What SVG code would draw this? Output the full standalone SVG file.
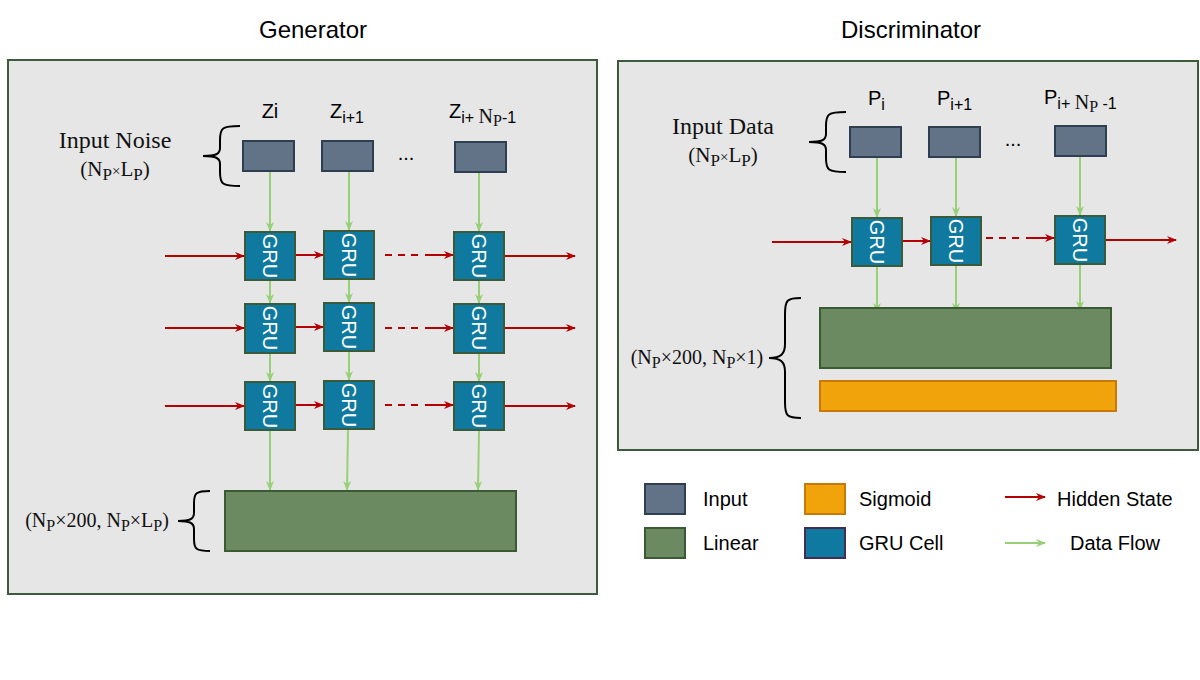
<svg xmlns="http://www.w3.org/2000/svg" width="1200" height="680" viewBox="0 0 1200 680">
<style>
.panel{fill:#e6e6e6;stroke:#3d5a3d;stroke-width:2}
.inp{fill:#627388;stroke:#2f3f52;stroke-width:2}
.gru{fill:#0f79a0;stroke:#3a5a3a;stroke-width:2}
.lin{fill:#6b8a62;stroke:#3a5a33;stroke-width:2}
.sig{fill:#f0a30a;stroke:#c7790a;stroke-width:2}
.gl{font-family:"Liberation Sans",Arial,sans-serif;font-size:20px;fill:#fff}
.t{font-family:"Liberation Sans",Arial,sans-serif;fill:#000}
.s{font-family:"Liberation Serif","Times New Roman",serif;fill:#111}
.br{fill:none;stroke:#000;stroke-width:2}
.red{stroke:#b30000;stroke-width:2;fill:none}
.grn{stroke:#97d077;stroke-width:2;fill:none}
</style>
<defs>
<marker id="ar" viewBox="0 0 10 10" refX="9" refY="5" markerWidth="10" markerHeight="10" orient="auto" markerUnits="userSpaceOnUse"><path d="M0,1 L10,5 L0,9 L3,5 Z" fill="#b30000"/></marker>
<marker id="ag" viewBox="0 0 10 10" refX="9" refY="5" markerWidth="10" markerHeight="10" orient="auto" markerUnits="userSpaceOnUse"><path d="M0,1 L10,5 L0,9 L3,5 Z" fill="#97d077"/></marker>
</defs>
<rect width="1200" height="680" fill="#fff"/>
<text class="t" x="313" y="38" font-size="24" text-anchor="middle">Generator</text>
<text class="t" x="911" y="38" font-size="24" text-anchor="middle">Discriminator</text>
<rect id="gen-panel" class="panel" x="8" y="60" width="589" height="534"/>
<rect id="disc-panel" class="panel" x="618" y="61" width="580" height="389"/>

<g id="gen-input-label">
<text class="s" x="115" y="148" font-size="24" text-anchor="middle">Input Noise</text>
<text class="s" x="115" y="176" font-size="21" text-anchor="middle">(N<tspan font-size="17" dy="4">P</tspan><tspan dy="-4" font-size="15">×</tspan>L<tspan font-size="17" dy="4">P</tspan><tspan dy="-4">)</tspan></text>
<path class="br" d="M240,126 C222,126 220,128 220,140 L220,148 C220,154 216,156 203,156 C216,156 220,158 220,164 L220,172 C220,184 222,186 240,186"/>
</g>

<g id="connectors">
<line class="grn" x1="270" y1="172" x2="270" y2="231" marker-end="url(#ag)"/>
<line class="grn" x1="349" y1="172" x2="349" y2="230" marker-end="url(#ag)"/>
<line class="grn" x1="479" y1="173" x2="479" y2="231" marker-end="url(#ag)"/>
<line class="grn" x1="270" y1="281" x2="270" y2="303" marker-end="url(#ag)"/>
<line class="grn" x1="349" y1="280" x2="349" y2="302" marker-end="url(#ag)"/>
<line class="grn" x1="479" y1="281" x2="479" y2="303" marker-end="url(#ag)"/>
<line class="grn" x1="270" y1="354" x2="270" y2="381" marker-end="url(#ag)"/>
<line class="grn" x1="349" y1="352" x2="349" y2="380" marker-end="url(#ag)"/>
<line class="grn" x1="479" y1="354" x2="479" y2="381" marker-end="url(#ag)"/>
<line class="grn" x1="270" y1="431" x2="270" y2="490" marker-end="url(#ag)"/>
<line class="grn" x1="348" y1="430" x2="347" y2="490" marker-end="url(#ag)"/>
<line class="grn" x1="479" y1="431" x2="478" y2="490" marker-end="url(#ag)"/>
<line class="red" x1="165" y1="256" x2="244" y2="256" marker-end="url(#ar)"/>
<line class="red" x1="296" y1="255" x2="323" y2="255" marker-end="url(#ar)"/>
<line class="red" x1="385" y1="255" x2="418" y2="255" stroke-dasharray="7,6"/>
<line class="red" x1="425" y1="255" x2="453" y2="255" marker-end="url(#ar)"/>
<line class="red" x1="505" y1="256" x2="575" y2="256" marker-end="url(#ar)"/>
<line class="red" x1="165" y1="328" x2="244" y2="328" marker-end="url(#ar)"/>
<line class="red" x1="296" y1="327" x2="323" y2="327" marker-end="url(#ar)"/>
<line class="red" x1="385" y1="328" x2="418" y2="328" stroke-dasharray="7,6"/>
<line class="red" x1="425" y1="328" x2="453" y2="328" marker-end="url(#ar)"/>
<line class="red" x1="505" y1="328" x2="575" y2="328" marker-end="url(#ar)"/>
<line class="red" x1="165" y1="406" x2="244" y2="406" marker-end="url(#ar)"/>
<line class="red" x1="296" y1="405" x2="323" y2="405" marker-end="url(#ar)"/>
<line class="red" x1="385" y1="405" x2="418" y2="405" stroke-dasharray="7,6"/>
<line class="red" x1="425" y1="405" x2="453" y2="405" marker-end="url(#ar)"/>
<line class="red" x1="505" y1="406" x2="575" y2="406" marker-end="url(#ar)"/>
<line class="grn" x1="877" y1="158" x2="877" y2="217" marker-end="url(#ag)"/>
<line class="grn" x1="956" y1="158" x2="956" y2="216" marker-end="url(#ag)"/>
<line class="grn" x1="1080" y1="157" x2="1080" y2="215" marker-end="url(#ag)"/>
<line class="grn" x1="877" y1="267" x2="877" y2="312" marker-end="url(#ag)"/>
<line class="grn" x1="956" y1="266" x2="956" y2="312" marker-end="url(#ag)"/>
<line class="grn" x1="1080" y1="265" x2="1080" y2="310" marker-end="url(#ag)"/>
<line class="red" x1="772" y1="242" x2="851" y2="242" marker-end="url(#ar)"/>
<line class="red" x1="903" y1="241" x2="930" y2="241" marker-end="url(#ar)"/>
<line class="red" x1="986" y1="238" x2="1019" y2="238" stroke-dasharray="7,6"/>
<line class="red" x1="1026" y1="238" x2="1054" y2="238" marker-end="url(#ar)"/>
<line class="red" x1="1106" y1="240" x2="1176" y2="240" marker-end="url(#ar)"/>
</g>

<g id="gen-inputs">
<rect class="inp" x="243" y="141" width="51" height="30"/>
<rect class="inp" x="322" y="141" width="51" height="30"/>
<rect class="inp" x="455" y="142" width="51" height="30"/>
<text class="t" x="270" y="118" font-size="20" text-anchor="middle">Zi</text>
<text class="t" x="330" y="118" font-size="20">Z<tspan font-size="16" dy="5">i+1</tspan></text>
<text class="t" x="449" y="118" font-size="20">Z<tspan font-size="16" dy="5">i+ </tspan><tspan class="s" font-size="20" dy="0">N</tspan><tspan class="s" font-size="16" dy="3">P</tspan><tspan font-size="16" dy="-3">-1</tspan></text>
<text class="t" x="406" y="160" font-size="20" text-anchor="middle">...</text>
</g>

<g id="gen-gru">
<rect class="gru" x="245" y="232" width="50" height="48"/>
<rect class="gru" x="324" y="231" width="50" height="48"/>
<rect class="gru" x="454" y="232" width="50" height="48"/>
<rect class="gru" x="245" y="304" width="50" height="49"/>
<rect class="gru" x="324" y="303" width="50" height="48"/>
<rect class="gru" x="454" y="304" width="50" height="49"/>
<rect class="gru" x="245" y="382" width="50" height="48"/>
<rect class="gru" x="324" y="381" width="50" height="48"/>
<rect class="gru" x="454" y="382" width="50" height="48"/>
<text class="gl" transform="translate(263,256) rotate(90)" text-anchor="middle">GRU</text>
<text class="gl" transform="translate(342,255) rotate(90)" text-anchor="middle">GRU</text>
<text class="gl" transform="translate(472,256) rotate(90)" text-anchor="middle">GRU</text>
<text class="gl" transform="translate(263,328) rotate(90)" text-anchor="middle">GRU</text>
<text class="gl" transform="translate(342,327) rotate(90)" text-anchor="middle">GRU</text>
<text class="gl" transform="translate(472,328) rotate(90)" text-anchor="middle">GRU</text>
<text class="gl" transform="translate(263,406) rotate(90)" text-anchor="middle">GRU</text>
<text class="gl" transform="translate(342,405) rotate(90)" text-anchor="middle">GRU</text>
<text class="gl" transform="translate(472,406) rotate(90)" text-anchor="middle">GRU</text>
</g>

<g id="gen-linear">
<rect class="lin" x="225" y="491" width="291" height="60"/>
<path class="br" d="M210,491 C196,491 194,493 194,503 L194,513 C194,519 190,521 178,521 C190,521 194,523 194,529 L194,539 C194,549 196,551 210,551"/>
<text class="s" x="97" y="527" font-size="20" text-anchor="middle">(N<tspan font-size="16" dy="4">P</tspan><tspan dy="-4">×200, N</tspan><tspan font-size="16" dy="4">P</tspan><tspan dy="-4">×L</tspan><tspan font-size="16" dy="4">P</tspan><tspan dy="-4">)</tspan></text>
</g>

<g id="disc-input-label">
<text class="s" x="723" y="134" font-size="24" text-anchor="middle">Input Data</text>
<text class="s" x="723" y="162" font-size="21" text-anchor="middle">(N<tspan font-size="17" dy="4">P</tspan><tspan dy="-4" font-size="15">×</tspan>L<tspan font-size="17" dy="4">P</tspan><tspan dy="-4">)</tspan></text>
<path class="br" d="M846,112 C828,112 826,114 826,126 L826,134 C826,140 822,142 809,142 C822,142 826,144 826,150 L826,158 C826,170 828,172 846,172"/>
</g>

<g id="disc-inputs">
<rect class="inp" x="850" y="127" width="51" height="30"/>
<rect class="inp" x="929" y="127" width="51" height="30"/>
<rect class="inp" x="1055" y="126" width="51" height="30"/>
<text class="t" x="868" y="105" font-size="20">P<tspan font-size="16" dy="5">i</tspan></text>
<text class="t" x="937" y="105" font-size="20">P<tspan font-size="16" dy="5">i+1</tspan></text>
<text class="t" x="1044" y="104" font-size="20">P<tspan font-size="16" dy="5">i+ </tspan><tspan class="s" font-size="20">N</tspan><tspan class="s" font-size="16" dy="3">P</tspan><tspan font-size="16" dy="-3"> -1</tspan></text>
<text class="t" x="1013" y="146" font-size="20" text-anchor="middle">...</text>
</g>

<g id="disc-gru">
<rect class="gru" x="852" y="218" width="50" height="48"/>
<rect class="gru" x="931" y="217" width="50" height="48"/>
<rect class="gru" x="1055" y="216" width="50" height="48"/>
<text class="gl" transform="translate(870,242) rotate(90)" text-anchor="middle">GRU</text>
<text class="gl" transform="translate(949,241) rotate(90)" text-anchor="middle">GRU</text>
<text class="gl" transform="translate(1073,240) rotate(90)" text-anchor="middle">GRU</text>
</g>

<g id="disc-output">
<rect class="lin" x="820" y="308" width="291" height="60"/>
<rect class="sig" x="820" y="381" width="296" height="30"/>
<path class="br" d="M801,298 C787,298 785,300 785,314 L785,344 C785,354 781,358 769,358 C781,358 785,362 785,372 L785,402 C785,416 787,418 801,418"/>
<text class="s" x="697" y="364" font-size="20" text-anchor="middle">(N<tspan font-size="16" dy="4">P</tspan><tspan dy="-4">×200, N</tspan><tspan font-size="16" dy="4">P</tspan><tspan dy="-4">×1)</tspan></text>
</g>

<g id="legend">
<rect class="inp" x="645" y="484" width="40" height="30"/>
<text class="t" x="703" y="506" font-size="20">Input</text>
<rect class="lin" x="645" y="528" width="40" height="30"/>
<text class="t" x="703" y="550" font-size="20">Linear</text>
<rect class="sig" x="805" y="484" width="40" height="30"/>
<text class="t" x="859" y="506" font-size="20">Sigmoid</text>
<rect x="805" y="528" width="40" height="30" fill="#0f79a0" stroke="#432d57" stroke-width="2"/>
<text class="t" x="859" y="550" font-size="20">GRU Cell</text>
<line class="red" x1="1005" y1="497" x2="1045" y2="497" marker-end="url(#ar)"/>
<text class="t" x="1057" y="506" font-size="20">Hidden State</text>
<line class="grn" x1="1005" y1="543" x2="1045" y2="543" marker-end="url(#ag)"/>
<text class="t" x="1070" y="550" font-size="20">Data Flow</text>
</g>
</svg>
